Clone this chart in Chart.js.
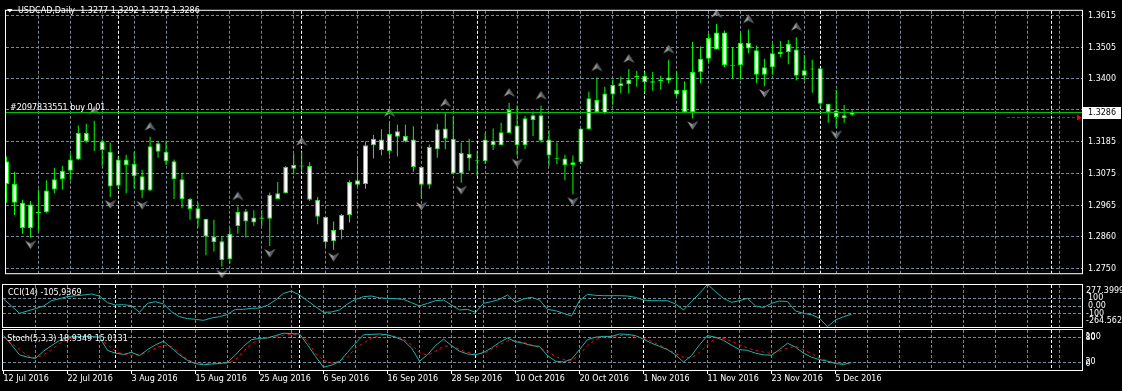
<!DOCTYPE html>
<html><head><meta charset="utf-8">
<script src="https://cdn.jsdelivr.net/npm/chart.js@4"></script>
<style>
html,body{margin:0;padding:0;background:#000;width:1122px;height:391px;overflow:hidden}
.p{position:absolute;left:0;width:1122px}
#w1{top:0;height:284px}#w2{top:284px;height:44px}#w3{top:328px;height:63px}
canvas{display:block}
</style></head><body>
<div class="p" id="w1"><canvas id="c1" width="1122" height="284"></canvas></div>
<div class="p" id="w2"><canvas id="c2" width="1122" height="44"></canvas></div>
<div class="p" id="w3"><canvas id="c3" width="1122" height="63"></canvas></div>
<script>
const dates = ['12 Jul 2016','13 Jul 2016','14 Jul 2016','15 Jul 2016','18 Jul 2016','19 Jul 2016','20 Jul 2016','21 Jul 2016','22 Jul 2016','25 Jul 2016','26 Jul 2016','27 Jul 2016','28 Jul 2016','29 Jul 2016',
'1 Aug 2016','2 Aug 2016','3 Aug 2016','4 Aug 2016','5 Aug 2016','8 Aug 2016','9 Aug 2016','10 Aug 2016','11 Aug 2016','12 Aug 2016','15 Aug 2016','16 Aug 2016','17 Aug 2016','18 Aug 2016','19 Aug 2016','22 Aug 2016','23 Aug 2016','24 Aug 2016','25 Aug 2016','26 Aug 2016','29 Aug 2016','30 Aug 2016','31 Aug 2016',
'1 Sep 2016','2 Sep 2016','5 Sep 2016','6 Sep 2016','7 Sep 2016','8 Sep 2016','9 Sep 2016','12 Sep 2016','13 Sep 2016','14 Sep 2016','15 Sep 2016','16 Sep 2016','19 Sep 2016','20 Sep 2016','21 Sep 2016','22 Sep 2016','23 Sep 2016','26 Sep 2016','27 Sep 2016','28 Sep 2016','29 Sep 2016','30 Sep 2016',
'3 Oct 2016','4 Oct 2016','5 Oct 2016','6 Oct 2016','7 Oct 2016','10 Oct 2016','11 Oct 2016','12 Oct 2016','13 Oct 2016','14 Oct 2016','17 Oct 2016','18 Oct 2016','19 Oct 2016','20 Oct 2016','21 Oct 2016','24 Oct 2016','25 Oct 2016','26 Oct 2016','27 Oct 2016','28 Oct 2016','31 Oct 2016',
'1 Nov 2016','2 Nov 2016','3 Nov 2016','4 Nov 2016','7 Nov 2016','8 Nov 2016','9 Nov 2016','10 Nov 2016','11 Nov 2016','14 Nov 2016','15 Nov 2016','16 Nov 2016','17 Nov 2016','18 Nov 2016','21 Nov 2016','22 Nov 2016','23 Nov 2016','24 Nov 2016','25 Nov 2016','28 Nov 2016','29 Nov 2016','30 Nov 2016',
'1 Dec 2016','2 Dec 2016','5 Dec 2016','6 Dec 2016','7 Dec 2016'];

const open = [1.3118,1.3040,1.2976,1.2889,1.2944,1.2944,1.3021,1.3056,1.3085,1.3124,
1.3214,1.3185,1.3185,1.3150,1.3034,1.3124,1.3108,1.3066,1.3018,1.3150,
1.3150,1.3118,1.3056,1.2989,1.2957,1.2921,1.2860,1.2844,1.2783,1.2896,
1.2947,1.2908,1.2925,1.2921,1.2989,1.3008,1.3092,1.3103,1.3101,1.2986,
1.2928,1.2844,1.2883,1.2934,1.3037,1.3040,1.3172,1.3192,1.3153,1.3220,
1.3204,1.3192,1.3098,1.3037,1.3159,1.3230,1.3195,1.3076,1.3143,1.3122,
1.3118,1.3188,1.3172,1.3214,1.3240,1.3172,1.3259,1.3275,1.3192,1.3129,
1.3127,1.3105,1.3114,1.3227,1.3327,1.3282,1.3346,1.3375,1.3381,1.3409,
1.3410,1.3386,1.3391,1.3394,1.3362,1.3362,1.3285,1.3423,1.3468,1.3500,
1.3558,1.3447,1.3446,1.3523,1.3497,1.3413,1.3439,1.3484,1.3491,1.3500,
1.3410,1.3434,1.3436,1.3314,1.3291,1.3265,1.3277];
const high = [1.3134,1.3082,1.2986,1.2982,1.3021,1.3053,1.3095,1.3101,1.3143,1.3240,
1.3246,1.3256,1.3192,1.3182,1.3134,1.3140,1.3150,1.3089,1.3201,1.3188,
1.3188,1.3124,1.3079,1.2992,1.2976,1.2921,1.2918,1.2860,1.2889,1.2963,
1.2954,1.2950,1.2950,1.3011,1.3047,1.3101,1.3143,1.3150,1.3114,1.2995,
1.2928,1.2912,1.2937,1.3053,1.3134,1.3185,1.3208,1.3227,1.3249,1.3243,
1.3243,1.3237,1.3101,1.3175,1.3246,1.3282,1.3272,1.3182,1.3195,1.3153,
1.3214,1.3230,1.3249,1.3317,1.3307,1.3272,1.3288,1.3307,1.3224,1.3182,
1.3140,1.3137,1.3230,1.3355,1.3404,1.3372,1.3397,1.3407,1.3433,1.3426,
1.3423,1.3423,1.3410,1.3465,1.3423,1.3391,1.3526,1.3510,1.3555,1.3587,
1.3565,1.3507,1.3558,1.3568,1.3513,1.3468,1.3519,1.3529,1.3532,1.3542,
1.3481,1.3465,1.3436,1.3314,1.3362,1.3310,1.3292];
const low = [1.2976,1.2934,1.2870,1.2857,1.2880,1.2941,1.3008,1.3021,1.3053,1.3121,
1.3182,1.3153,1.3101,1.2995,1.3024,1.3008,1.3024,1.2992,1.3015,1.3130,
1.3105,1.2989,1.2957,1.2918,1.2892,1.2796,1.2809,1.2757,1.2767,1.2870,
1.2857,1.2896,1.2896,1.2828,1.2989,1.3008,1.3072,1.3082,1.2982,1.2902,
1.2825,1.2815,1.2851,1.2908,1.3031,1.3024,1.3127,1.3137,1.3137,1.3134,
1.3182,1.3082,1.2989,1.3024,1.3130,1.3159,1.3072,1.3044,1.3085,1.3066,
1.3108,1.3156,1.3172,1.3214,1.3137,1.3159,1.3204,1.3182,1.3101,1.3108,
1.3053,1.3005,1.3108,1.3224,1.3282,1.3278,1.3310,1.3349,1.3349,1.3372,
1.3352,1.3359,1.3362,1.3384,1.3339,1.3282,1.3265,1.3384,1.3455,1.3500,
1.3439,1.3401,1.3397,1.3487,1.3384,1.3375,1.3413,1.3474,1.3449,1.3394,
1.3394,1.3352,1.3301,1.3249,1.3233,1.3249,1.3272];
const close = [1.3040,1.2976,1.2889,1.2970,1.2941,1.3018,1.3056,1.3085,1.3124,1.3214,
1.3185,1.3183,1.3156,1.3031,1.3124,1.3105,1.3066,1.3018,1.3169,1.3179,
1.3118,1.3056,1.2989,1.2954,1.2921,1.2860,1.2841,1.2780,1.2870,1.2944,
1.2912,1.2925,1.2921,1.3002,1.3008,1.3098,1.3105,1.3100,1.2986,1.2928,
1.2841,1.2883,1.2934,1.3047,1.3053,1.3172,1.3195,1.3156,1.3211,1.3201,
1.3185,1.3098,1.3037,1.3166,1.3227,1.3195,1.3076,1.3146,1.3127,1.3119,
1.3192,1.3172,1.3217,1.3294,1.3172,1.3265,1.3275,1.3188,1.3137,1.3126,
1.3105,1.3114,1.3230,1.3333,1.3285,1.3349,1.3378,1.3384,1.3397,1.3405,
1.3388,1.3391,1.3397,1.3404,1.3346,1.3285,1.3423,1.3468,1.3539,1.3558,
1.3446,1.3444,1.3523,1.3503,1.3413,1.3439,1.3487,1.3491,1.3519,1.3410,
1.3429,1.3431,1.3314,1.3285,1.3269,1.3275,1.3286];

const cci = [90,0,-94,-64,-34,0,68,94,120,132,
141,154,128,43,13,17,4,-81,34,56,
26,-73,-137,-162,-171,-184,-154,-137,-107,-43,
-43,-30,-26,9,77,162,192,141,68,-9,
-81,-77,-51,26,85,120,128,104,98,94,
85,43,0,34,68,77,13,-51,-43,-81,
34,56,85,141,47,90,111,77,-43,-60,
-94,-128,68,150,137,132,132,132,128,111,
77,68,68,68,26,-51,56,162,277.3999,184,
98,47,68,98,0,-20,34,64,56,-64,
-94,-111,-158,-264.562,-179,-137,-105.9369];

const stochMain = [86,63,38,32,29,47,61,74,82,84,
84,84,82,49,42,39,44,36,51,63,
72,55,38,24,16,13,15,16,19,38,
59,76,79,80,86,92,91,90,63,34,
7,12,21,44,67,88,89,90,88,82,
74,55,22,38,61,77,61,47,40,38,
44,55,69,80,71,67,61,59,36,22,
20,27,51,76,82,84,84,90,89,86,
77,67,59,51,38,20,36,63,86,82,
74,62,51,49,42,38,37,51,67,57,
42,32,26,22,16,14,18.9349];
const stochSignal = [82,67,51,36,30,38,51,66,77,82,
84,84,79,63,47,39,37,38,44,55,
62,59,42,26,17,16,16,16,17,26,
47,66,76,82,84,87,89,87,72,41,
24,17,22,32,55,67,80,87,87,84,
77,63,44,37,47,59,61,51,44,41,
41,51,63,73,72,69,63,55,47,34,
26,24,38,61,76,82,84,86,87,84,
79,72,62,52,41,32,30,44,63,80,
79,72,63,55,49,45,41,47,55,59,
51,41,30,23,17,16,15.0131];

const priceTicks = [1.3615,1.3505,1.3400,1.3295,1.3185,1.3075,1.2965,1.2860,1.2750];
const hiddenPriceLabels = [1.3295];
const dateTickIdx = [0,8,16,24,32,40,48,56,64,72,80,88,96,104];
const upFractalIdx = [11,18,29,37,48,55,63,67,74,78,83,89,93,99];
const downFractalIdx = [3,13,17,27,33,41,52,57,64,71,86,95,104];
const separatorIdx = [14,37,59,80,102,131];
const cciLevels = [100,0,-100];
const cciRange = [-264.562, 277.3999];
const stochLevels = [80,20];
const orderPrice = 1.3285;
const orderLabel = '#2097833551 buy 0.01';
const bidPrice = 1.3286;
const redLinePrice = 1.3268;
const symbolLabel = 'USDCAD,Daily';

const GRID = '#778899';
const FONT = "8px 'DejaVu Sans'";
Chart.defaults.font.family = "'DejaVu Sans', sans-serif";
Chart.defaults.font.size = 8;
Chart.defaults.color = '#ffffff';

const last = close.length - 1;

function xScale(show){
  const s = {type:'linear', min:-0.0625, max:134.8125, offset:false, display:show,
    grid:{display:false}, border:{display:false}};
  if (show){
    s.afterBuildTicks = sc => { sc.ticks = dateTickIdx.map(v=>({value:v})); };
    s.afterFit = sc => { sc.height = 21; };
    s.ticks = {align:'start', padding:0, autoSkip:false, maxRotation:0, minRotation:0, color:'#ffffff',
      font:{size:8}, callback:v => dates[v] || ''};
    s.grid = {display:true, drawOnChartArea:false, drawTicks:true, tickLength:4, tickColor:'#ffffff', color:'#ffffff', tickWidth:1};
  }
  return s;
}

function drawGrid(chart, hVals){
  const {ctx, chartArea:a, scales:{x, y}} = chart;
  ctx.save(); ctx.lineWidth = 1; ctx.setLineDash([3,2]);
  ctx.strokeStyle = GRID; ctx.beginPath();
  for (let k = 4; k <= 132; k += 4){
    const px = Math.floor(x.getPixelForValue(k)) + 0.5;
    ctx.moveTo(px, a.top); ctx.lineTo(px, a.bottom);
  }
  for (const v of hVals){
    const py = Math.floor(y.getPixelForValue(v)) + 0.5;
    ctx.moveTo(a.left, py); ctx.lineTo(a.right, py);
  }
  ctx.stroke();
  ctx.strokeStyle = '#ffffff'; ctx.beginPath();
  for (const k of separatorIdx){
    const px = Math.floor(x.getPixelForValue(k)) + 0.5;
    ctx.moveTo(px, a.top); ctx.lineTo(px, a.bottom);
  }
  ctx.stroke(); ctx.restore();
}
function drawFrame(chart){
  const {ctx, chartArea:a} = chart;
  ctx.save(); ctx.strokeStyle = '#ffffff'; ctx.lineWidth = 1; ctx.setLineDash([]);
  ctx.strokeRect(a.left - 0.5, a.top - 0.5, a.right - a.left + 1, a.bottom - a.top + 1);
  ctx.restore();
}
function txt(ctx, s, x, y, color){
  ctx.fillStyle = color || '#ffffff'; ctx.font = FONT; ctx.textBaseline = 'middle'; ctx.textAlign = 'left';
  ctx.fillText(s, x, y);
}

function arrowImg(up){
  const c = document.createElement('canvas');
  c.width = 13; c.height = up ? 32 : 28;
  const g = c.getContext('2d');
  const cx = 6.5, cy = up ? 5.7 : 21;
  const s = up ? 1 : -1;
  g.beginPath(); g.moveTo(cx, cy - 4.5*s); g.lineTo(cx + 5.5, cy + 4*s); g.lineTo(cx, cy + 1*s); g.lineTo(cx - 5.5, cy + 4*s); g.closePath();
  g.fillStyle = '#9a9a9a'; g.fill();
  g.beginPath(); g.moveTo(cx, cy - 4.5*s); g.lineTo(cx + 5.5, cy + 4*s); g.lineTo(cx, cy + 1*s); g.closePath();
  g.fillStyle = '#555c66'; g.fill();
  return c;
}

const mainPlugin = {
  id:'mtMain',
  beforeDatasetsDraw(chart){ drawGrid(chart, priceTicks); },
  afterDatasetsDraw(chart){
    const {ctx, chartArea:a, scales:{x, y}} = chart;
    ctx.save();
    const oy = Math.round(y.getPixelForValue(orderPrice)) + 0.5;
    ctx.strokeStyle = '#00c000'; ctx.lineWidth = 1; ctx.beginPath();
    ctx.moveTo(a.left, oy); ctx.lineTo(a.right, oy); ctx.stroke();
    const ry = Math.floor(y.getPixelForValue(redLinePrice)) + 0.5;
    const rx0 = x.getPixelForValue(125.4);
    ctx.strokeStyle = '#ff0000'; ctx.setLineDash([3,2]); ctx.beginPath();
    ctx.moveTo(rx0, ry); ctx.lineTo(a.right - 5, ry); ctx.stroke(); ctx.setLineDash([]);
    ctx.fillStyle = '#ff0000'; ctx.beginPath();
    ctx.moveTo(a.right - 5, ry - 3); ctx.lineTo(a.right, ry); ctx.lineTo(a.right - 5, ry + 3); ctx.closePath(); ctx.fill();
    ctx.fillStyle = '#ffffff'; ctx.beginPath();
    ctx.moveTo(7, 9); ctx.lineTo(12.5, 9); ctx.lineTo(9.75, 12.5); ctx.closePath(); ctx.fill();
    txt(ctx, symbolLabel + '  ' + [open[last], high[last], low[last], close[last]].map(v=>v.toFixed(4)).join(' '), 18, 11);
    txt(ctx, orderLabel, 10, oy - 4.5);
    ctx.restore();
  },
  afterDraw(chart){
    const {ctx, chartArea:a, scales:{y}} = chart;
    drawFrame(chart);
    const by = y.getPixelForValue(bidPrice);
    ctx.save();
    ctx.fillStyle = '#ffffff'; ctx.fillRect(a.right + 1, Math.round(by) - 5, 38, 12);
    txt(ctx, bidPrice.toFixed(4), a.right + 6, Math.round(by) + 1, '#000000');
    ctx.restore();
  }
};

const cciPlugin = {
  id:'mtCci',
  beforeDatasetsDraw(chart){ drawGrid(chart, cciLevels); },
  afterDraw(chart){
    const {ctx, chartArea:a, scales:{y}} = chart;
    drawFrame(chart);
    ctx.save();
    txt(ctx, 'CCI(14) ' + cci[last].toFixed(4).replace('.', ','), 8, 8.7);
    const rx = a.right + 4;
    txt(ctx, cciRange[1].toFixed(4), rx, a.top + 6);
    txt(ctx, '100', rx + 2, y.getPixelForValue(100));
    txt(ctx, '0.00', rx + 2, y.getPixelForValue(0));
    txt(ctx, '-100', rx, y.getPixelForValue(-100));
    txt(ctx, cciRange[0].toFixed(3), rx, a.bottom - 6);
    ctx.restore();
  }
};

const stochPlugin = {
  id:'mtStoch',
  beforeDatasetsDraw(chart){ drawGrid(chart, stochLevels); },
  afterDraw(chart){
    const {ctx, chartArea:a, scales:{y}} = chart;
    drawFrame(chart);
    ctx.save();
    txt(ctx, 'Stoch(5,3,3) ' + stochMain[last].toFixed(4) + ' ' + stochSignal[last].toFixed(4), 7.3, 11.3);
    const rx = a.right + 3.5;
    txt(ctx, '100', rx, a.top + 6.5);
    txt(ctx, '80', rx, y.getPixelForValue(80));
    txt(ctx, '20', rx, y.getPixelForValue(20));
    txt(ctx, '0', rx, a.bottom - 6);
    ctx.restore();
  }
};

const base = {responsive:false, animation:false, devicePixelRatio:1, events:[],
  plugins:{legend:{display:false}, tooltip:{enabled:false}}};

new Chart(document.getElementById('c1'), {
  type:'bar',
  data:{datasets:[
    {type:'line', data: upFractalIdx.map(i=>({x:i, y:high[i]})), showLine:false, pointStyle: arrowImg(true), pointRadius:5, clip:false, order:0},
    {type:'line', data: downFractalIdx.map(i=>({x:i, y:low[i]})), showLine:false, pointStyle: arrowImg(false), pointRadius:5, clip:false, order:0},
    {data: open.map((o,i)=>({x:i, y:[o, close[i]]})), backgroundColor:'#ffffff', borderColor:'#00ff00', borderWidth:1,
      borderSkipped:false, barThickness:5, minBarLength:1, grouped:false, inflateAmount:0, order:1},
    {data: high.map((h,i)=>({x:i, y:[low[i], h]})), backgroundColor:'#00ff00', borderWidth:0,
      barThickness:1, grouped:false, inflateAmount:0, order:2}
  ]},
  options:Object.assign({}, base, {
    layout:{padding:{left:3, top:3, right:0, bottom:2}},
    scales:{
      x: xScale(false),
      y: {type:'linear', position:'right', min:1.2734879, max:1.3632043,
        afterBuildTicks: s => { s.ticks = priceTicks.map(v=>({value:v})); },
        afterFit: s => { s.width = 40; },
        ticks:{padding:6, color:'#ffffff', autoSkip:false, font:{size:8},
          callback:v => hiddenPriceLabels.includes(v) ? '' : Number(v).toFixed(4)},
        grid:{display:false, drawTicks:false}, border:{display:false}}
    }
  }),
  plugins:[mainPlugin]
});

new Chart(document.getElementById('c2'), {
  type:'line',
  data:{datasets:[{data: cci.map((v,i)=>({x:i, y:v})), borderColor:'#20b2aa', borderWidth:1, pointRadius:0, tension:0}]},
  options:Object.assign({}, base, {
    layout:{padding:{left:3, top:1, right:40, bottom:1}},
    scales:{x: xScale(false), y:{display:false, min:-269.2, max:269.2}}
  }),
  plugins:[cciPlugin]
});

new Chart(document.getElementById('c3'), {
  type:'line',
  data:{datasets:[
    {data: stochMain.map((v,i)=>({x:i, y:v})), borderColor:'#20b2aa', borderWidth:1, pointRadius:0, tension:0},
    {data: stochSignal.map((v,i)=>({x:i, y:v})), borderColor:'#ff0000', borderWidth:1, borderDash:[3,3], pointRadius:0, tension:0}
  ]},
  options:Object.assign({}, base, {
    layout:{padding:{left:3, top:2, right:40, bottom:0}},
    scales:{x: xScale(true), y:{display:false, min:0, max:100}}
  }),
  plugins:[stochPlugin]
});
</script>
</body></html>
